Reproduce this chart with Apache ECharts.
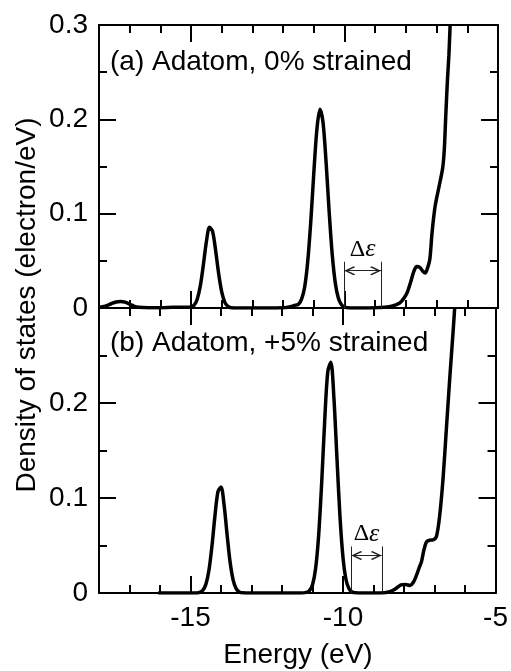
<!DOCTYPE html>
<html>
<head>
<meta charset="utf-8">
<script src="https://cdn.jsdelivr.net/npm/echarts@6/dist/echarts.min.js"></script>
<style>
html, body { margin: 0; padding: 0; background: #fff; }
#chart { width: 511px; height: 671px; }
</style>
</head>
<body>
<div id="chart"></div>
<script>
// panel (a): adatom, 0% strain
var energyA = [-18.0, -17.8, -17.6, -17.45, -17.3, -17.15, -17.0, -16.85, -16.7, -16.4, -16.0, -15.6, -15.3, -15.1,
	-15.0, -14.9, -14.8, -14.7, -14.6, -14.5, -14.4, -14.3, -14.2, -14.1, -14.0, -13.9, -13.8, -13.7, -13.4,
	-12.5, -12.0, -11.8, -11.7, -11.6, -11.5, -11.4, -11.3, -11.2, -11.1, -11.0, -10.9, -10.8, -10.7, -10.6,
	-10.5, -10.4, -10.3, -10.2, -10.1, -10.0, -9.8, -9.2, -8.8, -8.5, -8.2, -8.05, -7.95, -7.85, -7.75, -7.65,
	-7.55, -7.45, -7.37, -7.3, -7.22, -7.15, -7.05, -6.9, -6.8, -6.75, -6.7, -6.65, -6.6, -6.56];
var dosA = [0.0005, 0.002, 0.0045, 0.0063, 0.007, 0.0062, 0.004, 0.0018, 0.0007, 0.0003, 0.0003, 0.0008, 0.0009, 0.0008,
	0.0012, 0.003, 0.0093, 0.0233, 0.0457, 0.0705, 0.0855, 0.0812, 0.061, 0.036, 0.0168, 0.006, 0.0017, 0.0003, 0.0,
	0.0, 0.0003, 0.001, 0.002, 0.003, 0.004, 0.0095, 0.022, 0.049, 0.0915, 0.1437, 0.1897, 0.2106, 0.1965, 0.154,
	0.1015, 0.0563, 0.0263, 0.0103, 0.0034, 0.0009, 0.0, 0.0, 0.0005, 0.0017, 0.0053, 0.011, 0.017, 0.027, 0.038, 0.044,
	0.043, 0.039, 0.037, 0.042, 0.052, 0.0794, 0.1076, 0.132, 0.149, 0.168, 0.205, 0.24, 0.268, 0.3];

// panel (b): adatom, +5% strain
var energyB = [-16.06, -15.5, -15.0, -14.8, -14.7, -14.6, -14.5, -14.4, -14.3, -14.2, -14.1, -14.0, -13.9, -13.8,
	-13.7, -13.6, -13.5, -13.4, -13.3, -13.0, -12.0, -11.4, -11.2, -11.1, -11.0, -10.9, -10.8, -10.7, -10.6, -10.5,
	-10.4, -10.3, -10.2, -10.1, -10.0, -9.9, -9.8, -9.7, -9.6, -9.3, -8.8, -8.5, -8.3, -8.1, -7.95, -7.8, -7.7,
	-7.6, -7.5, -7.43, -7.35, -7.26, -7.15, -7.05, -6.94, -6.83, -6.72, -6.61, -6.5, -6.39, -6.34];
var dosB = [0.0, 0.0, 0.0, 0.0001, 0.0006, 0.0027, 0.0088, 0.0232, 0.0486, 0.0808, 0.1066, 0.1116, 0.0928, 0.0612,
	0.032, 0.0133, 0.0044, 0.0011, 0.0002, 0.0, 0.0, 0.0, 0.0006, 0.0025, 0.0087, 0.0255, 0.0604, 0.116, 0.182, 0.233,
	0.2428, 0.206, 0.1425, 0.0804, 0.037, 0.0137, 0.0042, 0.001, 0.0002, 0.0, 0.0, 0.001, 0.004, 0.0085, 0.009, 0.008, 0.011,
	0.018, 0.027, 0.0328, 0.045, 0.054, 0.0557, 0.056, 0.0592, 0.082, 0.121, 0.1738, 0.2266, 0.276, 0.3];

// gap markers (eV) and heights
var gapA = [-10.01, -8.81];
var gapB = [-9.73, -8.73];
var gapTop = 0.049;
var gapArrow = 0.0395;
var gapText = 0.062;

var xMajor = [-15, -10, -5];
var panelLabels = ['(a) Adatom, 0% strained', '(b) Adatom, +5% strained'];

var FONT = '"Liberation Sans", Arial, sans-serif';
var axisLine = { color: '#000', width: 2 };
// open chevron, tip at the end point
var chevron = 'path://M5,-10 L5.01,-10 L5,-9.99 Z M5,0 L10,8.6 L8.9,10 L5,3 L1.1,10 L0,8.6 Z';

function pairs(xs, ys) {
	var out = [];
	for (var i = 0; i < xs.length; i++) out.push([xs[i], ys[i]]);
	return out;
}

function xAxes(g, labels) {
	var list = [];
	['bottom', 'top'].forEach(function (pos) {
		list.push({
			type: 'value', gridIndex: g, position: pos, min: -18, max: -5, interval: 1,
			axisLine: { show: true, onZero: false, lineStyle: axisLine },
			axisTick: { show: true, inside: true, length: 8, lineStyle: axisLine },
			axisLabel: { show: false }, splitLine: { show: false }
		});
	});
	['bottom', 'top'].forEach(function (pos) {
		list.push({
			type: 'value', gridIndex: g, position: pos, min: -18, max: -5,
			axisLine: { show: false, onZero: false },
			axisTick: { show: true, inside: true, length: 17, lineStyle: axisLine, customValues: xMajor },
			axisLabel: {
				show: labels && pos === 'bottom', customValues: xMajor, margin: 11,
				fontSize: 28, fontFamily: FONT, color: '#000'
			},
			splitLine: { show: false }
		});
	});
	return list;
}

function yAxes(g) {
	return ['left', 'right'].map(function (pos) {
		return {
			type: 'value', gridIndex: g, position: pos, min: 0, max: 0.3, interval: 0.1,
			axisLine: { show: true, onZero: false, lineStyle: axisLine },
			axisTick: { show: true, inside: true, length: 17, lineStyle: axisLine },
			minorTick: { show: true, splitNumber: 2, length: 8, lineStyle: axisLine },
			axisLabel: {
				show: pos === 'left', showMaxLabel: g === 0, margin: 11,
				fontSize: 28, fontFamily: FONT, color: '#000'
			},
			splitLine: { show: false }, minorSplitLine: { show: false }
		};
	});
}

function gapMarks(gap) {
	var thin = { color: '#222', width: 1, type: 'solid' };
	return {
		silent: true, symbol: 'none', label: { show: false }, lineStyle: thin,
		data: [
			[{ coord: [gap[0], 0] }, { coord: [gap[0], gapTop] }],
			[{ coord: [gap[1], 0] }, { coord: [gap[1], gapTop] }],
			[{ coord: [gap[0], gapArrow], symbol: chevron, symbolSize: [9, 22] },
			 { coord: [gap[1], gapArrow], symbol: chevron, symbolSize: [9, 22] }]
		]
	};
}

function gapLabel(gap) {
	return {
		silent: true,
		data: [{
			coord: [(gap[0] + gap[1]) / 2, gapText], symbol: 'circle', symbolSize: 0,
			label: {
				show: true, position: 'inside', formatter: '{d|Δ}{e|ε}',
				rich: {
					d: { fontFamily: '"Liberation Serif", serif', fontSize: 24, color: '#000' },
					e: { fontFamily: '"Liberation Serif", serif', fontSize: 26, fontStyle: 'italic', color: '#000' }
				}
			}
		}]
	};
}

function dosSeries(xi, yi, xs, ys, gap) {
	return {
		type: 'line', xAxisIndex: xi, yAxisIndex: yi, data: pairs(xs, ys),
		smooth: 0.3, showSymbol: false, silent: true,
		lineStyle: { color: '#000', width: 3.5 },
		markLine: gapMarks(gap),
		markPoint: gapLabel(gap)
	};
}

var myChart = echarts.init(document.getElementById('chart'));
myChart.setOption({
	animation: false,
	backgroundColor: '#fff',
	grid: [
		{ left: 99, top: 25, width: 399, height: 283 },
		{ left: 99, top: 308, width: 399, height: 285 }
	],
	xAxis: xAxes(0, false).concat(xAxes(1, true)),
	yAxis: yAxes(0).concat(yAxes(1)),
	series: [
		dosSeries(0, 0, energyA, dosA, gapA),
		dosSeries(4, 2, energyB, dosB, gapB)
	],
	graphic: [
		{ type: 'text', x: 110, y: 62, style: { text: panelLabels[0], fontSize: 28, fontFamily: FONT, fill: '#000', verticalAlign: 'middle' } },
		{ type: 'text', x: 110, y: 343, style: { text: panelLabels[1], fontSize: 28, fontFamily: FONT, fill: '#000', verticalAlign: 'middle' } },
		{ type: 'text', x: 27, y: 305, rotation: Math.PI / 2, style: { text: 'Density of states (electron/eV)', fontSize: 28, fontFamily: FONT, fill: '#000', align: 'center', verticalAlign: 'middle' } },
		{ type: 'text', x: 298, y: 655, style: { text: 'Energy (eV)', fontSize: 28, fontFamily: FONT, fill: '#000', align: 'center', verticalAlign: 'middle' } }
	]
});
</script>
</body>
</html>
